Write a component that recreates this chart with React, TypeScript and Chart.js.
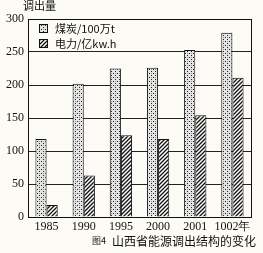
import React, { useEffect, useRef } from 'react';
import { Chart, registerables } from 'chart.js';
Chart.register(...registerables);

const categories = ['1985', '1990', '1995', '2000', '2001', '1002年'];
const coal = [118, 202, 225, 226, 253, 279];
const power = [18, 63, 124, 118, 154, 211];
const yMin = 0;
const yMax = 300;
const yStep = 50;
const seriesLabels = ['煤炭/100万t', '电力/亿kw.h'];
const yTitle = '调出量';
const figLabel = '图4';
const caption = '山西省能源调出结构的变化';

const SERIF = '"Liberation Serif", "DejaVu Serif", serif';
const CJK = '"Noto Sans CJK SC", sans-serif';

function makeDots(): CanvasPattern | string {
  const c = document.createElement('canvas');
  c.width = 4; c.height = 4;
  const g = c.getContext('2d');
  if (!g) return '#ddd';
  g.fillStyle = '#e4e4e4';
  g.fillRect(0, 0, 4, 4);
  g.fillStyle = '#222';
  g.fillRect(1, 1, 1, 1);
  g.fillRect(3, 3, 1, 1);
  g.fillStyle = '#999';
  g.fillRect(3, 1, 1, 1);
  return g.createPattern(c, 'repeat') as CanvasPattern;
}

function makeHatch(): CanvasPattern | string {
  const c = document.createElement('canvas');
  c.width = 4; c.height = 4;
  const g = c.getContext('2d');
  if (!g) return '#888';
  g.fillStyle = '#fff';
  g.fillRect(0, 0, 4, 4);
  g.strokeStyle = '#111';
  g.lineWidth = 1.3;
  g.beginPath();
  g.moveTo(-1, 5); g.lineTo(5, -1);
  g.moveTo(-1, 1); g.lineTo(1, -1);
  g.moveTo(3, 5); g.lineTo(5, 3);
  g.stroke();
  return g.createPattern(c, 'repeat') as CanvasPattern;
}

export default function App() {
  const ref = useRef<HTMLCanvasElement | null>(null);
  useEffect(() => {
    if (!ref.current) return;
    const dots = makeDots();
    const hatch = makeHatch();
    const fills = [dots, hatch];
    const deco = {
      id: 'deco',
      beforeDraw(chart: any) {
        const ctx = chart.ctx;
        ctx.save();
        ctx.fillStyle = '#fcfbf5';
        ctx.fillRect(0, 0, chart.width, chart.height);
        ctx.restore();
      },
      afterDraw(chart: any) {
        const ctx = chart.ctx;
        const a = chart.chartArea;
        ctx.save();
        ctx.strokeStyle = '#111';
        ctx.lineWidth = 1;
        ctx.strokeRect(Math.round(a.left) + 0.5, Math.round(a.top) + 0.5, Math.round(a.right - a.left), Math.round(a.bottom - a.top));
        // legend
        ctx.font = '11px ' + CJK;
        ctx.textBaseline = 'middle';
        ctx.textAlign = 'left';
        seriesLabels.forEach((lab, i) => {
          const y = a.top + 5 + i * 15;
          ctx.fillStyle = fills[i];
          ctx.fillRect(a.left + 11, y, 9, 9);
          ctx.strokeStyle = '#111';
          ctx.strokeRect(a.left + 11.5, y + 0.5, 8, 8);
          ctx.fillStyle = '#111';
          ctx.fillText(lab, a.left + 27, y + 5);
        });
        // title
        ctx.font = '11px ' + CJK;
        ctx.fillText(yTitle, 23, 6);
        // caption
        ctx.font = '9px ' + CJK;
        ctx.fillText(figLabel, 92, 241);
        ctx.font = '12px ' + CJK;
        ctx.fillText(caption, 112, 241);
        ctx.restore();
      },
    };
    const chart = new Chart(ref.current, {
      type: 'bar',
      data: {
        labels: categories,
        datasets: [
          { label: seriesLabels[0], data: coal, backgroundColor: dots as any, borderColor: '#111', borderWidth: 1, categoryPercentage: 0.6, barPercentage: 1 },
          { label: seriesLabels[1], data: power, backgroundColor: hatch as any, borderColor: '#111', borderWidth: 1, categoryPercentage: 0.6, barPercentage: 1 },
        ],
      },
      options: {
        responsive: false,
        animation: false,
        devicePixelRatio: 1,
        layout: { padding: { top: 19, right: 12, left: 0, bottom: 0 } },
        plugins: { legend: { display: false }, tooltip: { enabled: false } },
        scales: {
          x: {
            grid: { display: true, drawOnChartArea: false, drawTicks: false, tickLength: 0 },
            border: { display: true, color: '#111' },
            ticks: { color: '#111', font: { family: SERIF, size: 12 }, padding: 3, maxRotation: 0, minRotation: 0, autoSkip: false, align: 'center' },
            afterFit: (s: any) => { s.height = 36; },
          },
          y: {
            min: yMin,
            max: yMax,
            grid: { color: '#222', lineWidth: 1, drawTicks: false },
            border: { display: true, color: '#111' },
            ticks: { stepSize: yStep, color: '#111', font: { family: SERIF, size: 12 }, padding: 4 },
            afterFit: (s: any) => { s.width = 28; },
          },
        },
      },
      plugins: [deco],
    });
    return () => chart.destroy();
  }, []);
  return (
    <div style={{ position: 'absolute', left: 0, top: 0, width: 263, height: 253 }}>
      <canvas ref={ref} width={263} height={253} style={{ display: 'block' }} />
    </div>
  );
}
